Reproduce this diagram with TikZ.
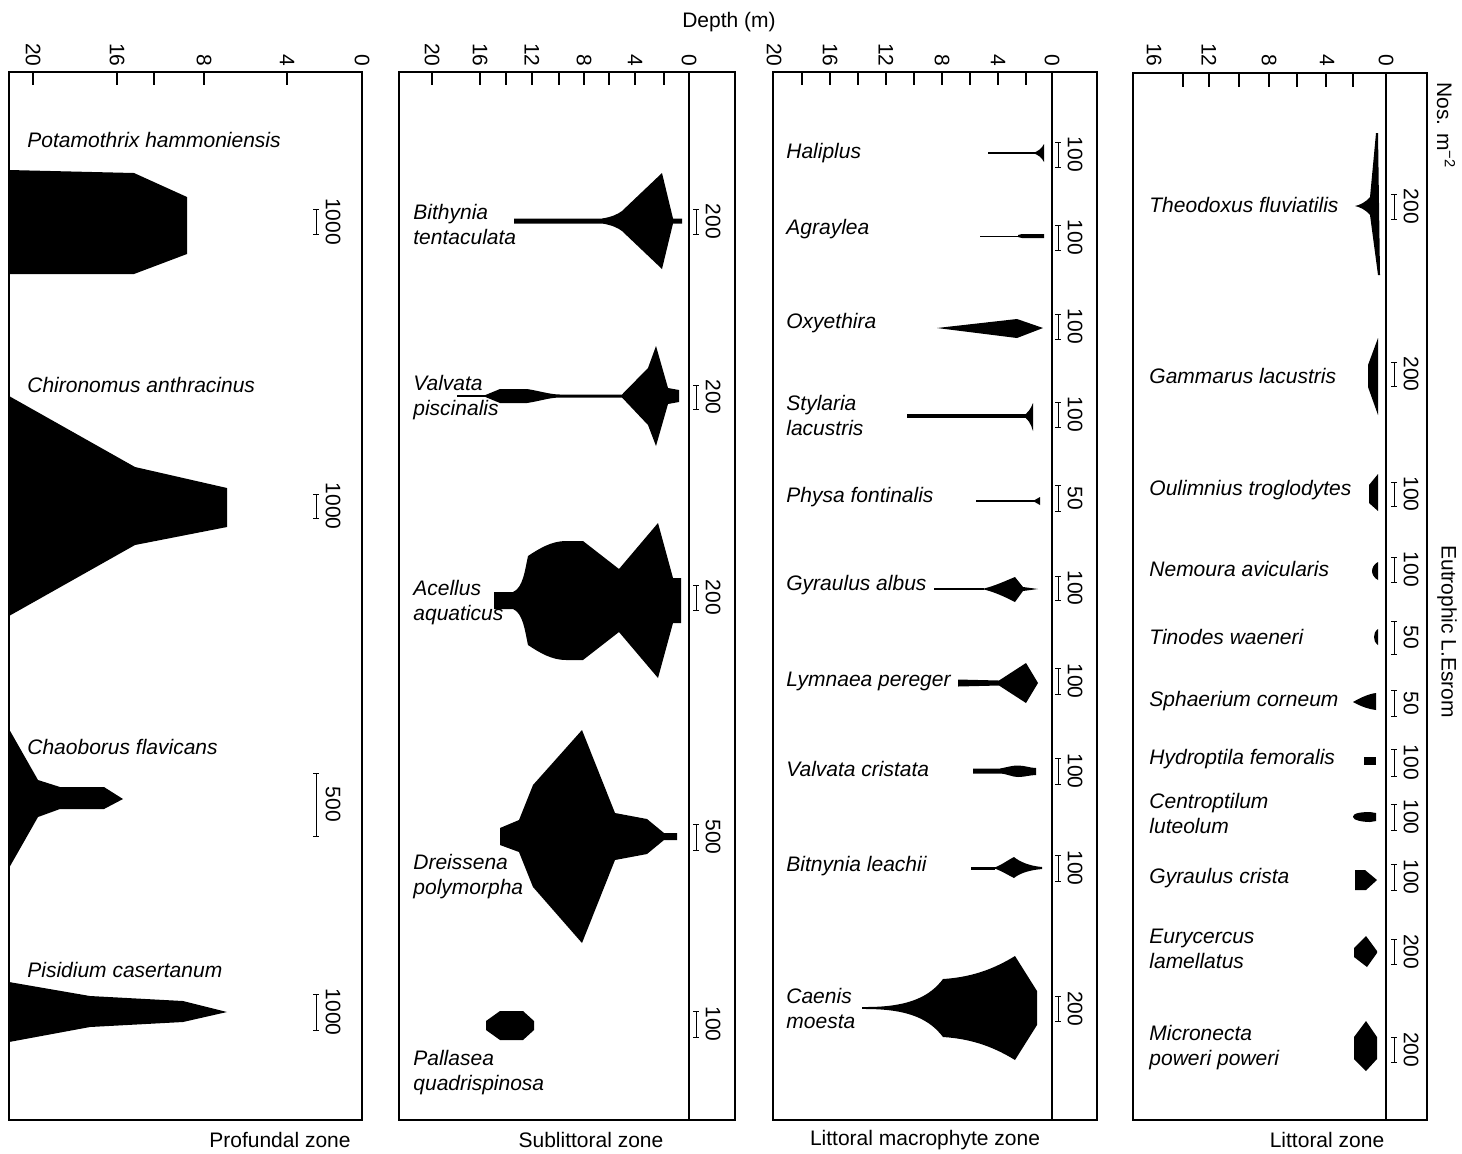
\documentclass[tikz,border=0pt]{standalone}
\usepackage{fontspec}
\setmainfont{Liberation Sans}
\begin{document}
\begin{tikzpicture}[x=0.5pt,y=-0.5pt,
  frame/.style={line width=0.6pt},
  tickmark/.style={line width=0.6pt},
  bar/.style={line width=0.5pt},
  sp/.style={anchor=west,inner sep=0pt,align=left,font=\itshape\fontsize{10.5}{12.5}\selectfont},
  num/.style={rotate=-90,anchor=center,inner sep=0pt,font=\fontsize{10.5}{12.5}\selectfont},
  ticklab/.style={rotate=-90,anchor=east,inner sep=0pt,font=\fontsize{10.5}{12.5}\selectfont},
  zone/.style={anchor=center,inner sep=0pt,font=\fontsize{10.5}{12.5}\selectfont}]
\useasboundingbox (0,0) rectangle (1462,1153);

% scale bar: name, x, top, bottom, value
\newcommand\sbar[5]{%
  \draw[bar] (#2-3,#3) -- (#2+3,#3) (#2,#3) -- (#2,#4) (#2-3,#4) -- (#2+3,#4);
  \node[num] (#1) at ({#2+17},{(#3+#4)/2}) {#5};}

% ---------------- frames and depth axes ----------------
\node[zone] (depth) at (729,22) {Depth (m)};

% Profundal
\draw[frame] (9,72) rectangle (362,1120);
\foreach \x in {33,117,154,204,287} \draw[tickmark] (\x,72) -- (\x,85);
\node[ticklab] (pa) at (33,67) {20};
\node[ticklab] (pb) at (117,67) {16};
\node[ticklab] (pc) at (204,67) {8};
\node[ticklab] (pd) at (287,67) {4};
\node[ticklab] (pe) at (362,67) {0};

% Sublittoral
\draw[frame] (399,72) rectangle (735,1120);
\draw[frame] (689,72) -- (689,1120);
\foreach \x in {432,480,506,532,559,584,609,635,664} \draw[tickmark] (\x,72) -- (\x,85);
\node[ticklab] (sa) at (432,67) {20};
\node[ticklab] (sb) at (480,67) {16};
\node[ticklab] (sc) at (532,67) {12};
\node[ticklab] (sd) at (584,67) {8};
\node[ticklab] (se) at (635,67) {4};
\node[ticklab] (sf) at (689,67) {0};

% Littoral macrophyte
\draw[frame] (773,72) rectangle (1097,1120);
\draw[frame] (1052,72) -- (1052,1120);
\foreach \x in {802,830,858,886,914,942,970,998,1026} \draw[tickmark] (\x,72) -- (\x,85);
\node[ticklab] (ma) at (774,67) {20};
\node[ticklab] (mb) at (830,67) {16};
\node[ticklab] (mc) at (886,67) {12};
\node[ticklab] (md) at (942,67) {8};
\node[ticklab] (me) at (998,67) {4};
\node[ticklab] (mf) at (1052,67) {0};

% Littoral
\draw[frame] (1133,73) rectangle (1427,1120);
\draw[frame] (1386,73) -- (1386,1120);
\foreach \x in {1183,1209,1239,1269,1297,1326,1353} \draw[tickmark] (\x,73) -- (\x,87);
\node[ticklab] (la) at (1154,67) {16};
\node[ticklab] (lb) at (1209,67) {12};
\node[ticklab] (lc) at (1269,67) {8};
\node[ticklab] (ld) at (1327,67) {4};
\node[ticklab] (le) at (1386,67) {0};

\node[rotate=-90,anchor=west,inner sep=0pt,font=\fontsize{10.5}{12.5}\selectfont] (nos) at (1446,82) {Nos. m\textsuperscript{−2}};
\node[rotate=-90,anchor=west,inner sep=0pt,font=\fontsize{10.5}{12.5}\selectfont] (lake) at (1447,545) {Eutrophic L.Esrom};

% zone names
\node[zone] (zprof) at (280,1140) {Profundal zone};
\node[zone] (zsub) at (591,1140) {Sublittoral zone};
\node[zone] (zmac) at (925,1140) {Littoral macrophyte zone};
\node[zone] (zlit) at (1327,1140) {Littoral zone};

% ---------------- Profundal zone ----------------
\node[sp] (potam) at (27,140) {Potamothrix hammoniensis};
\fill (9,170) -- (134,173) -- (187,197) -- (187,254) -- (134,274) -- (9,274) -- cycle;
\sbar{bpotam}{316}{209}{234}{1000}

\node[sp] (chiro) at (27,385) {Chironomus anthracinus};
\fill (9,396) -- (135,467) -- (227,488) -- (227,527) -- (135,545) -- (9,616) -- cycle;
\sbar{bchiro}{316}{494}{518}{1000}

\node[sp] (chaob) at (27,747) {Chaoborus flavicans};
\fill (9,729) -- (38,780) -- (60,787) -- (104,787) -- (123,799) -- (104,809) -- (60,809) -- (38,817) -- (9,868) -- cycle;
\sbar{bchaob}{316}{773}{836}{500}

\node[sp] (pisid) at (27,970) {Pisidium casertanum};
\fill (9,982) -- (90,996) -- (183,1001) -- (227,1012) -- (183,1022) -- (90,1027) -- (9,1042) -- cycle;
\sbar{bpisid}{316}{994}{1030}{1000}

% ---------------- Sublittoral zone ----------------
\node[sp] (bithy) at (413,224.5) {Bithynia\\tentaculata};
\fill (514,218.5) -- (602,218.5) .. controls (612,217) and (618,214) .. (622,211) -- (662,173) -- (673,218.5) -- (682,218.5)
  -- (682,223.5) -- (673,223.5) -- (662,269) -- (622,231) .. controls (618,228) and (612,225) .. (602,223.5) -- (514,223.5) -- cycle;
\sbar{bbithy}{696}{209}{234}{200}

\node[sp] (valpi) at (413,398) {Valvata\\piscinalis};
\draw[line width=0.6pt] (457,396) -- (485,396);
\fill (483,396) -- (500,389) -- (527,389) .. controls (540,391) and (550,394.5) .. (560,394.5) -- (622,394.5) -- (648,368) -- (656,346) -- (668,388) -- (679,390)
  -- (679,402) -- (668,404) -- (656,446) -- (648,425) -- (622,397.5) -- (560,397.5) .. controls (550,397.5) and (540,401) .. (527,403) -- (500,403) -- cycle;
\sbar{bvalpi}{696}{385}{409}{200}

\node[sp] (acell) at (413,602.5) {Acellus\\aquaticus};
\fill (494,592) -- (513,592) .. controls (523,588) and (525,570) .. (528,556) .. controls (540,548) and (552,541) .. (566,541) -- (583,541) -- (619,569) -- (658,523) -- (673,578) -- (681,578)
  -- (681,623) -- (673,623) -- (658,678) -- (619,632) -- (583,660) -- (566,660) .. controls (552,660) and (540,653) .. (528,645) .. controls (525,631) and (523,613) .. (513,609) -- (494,609) -- cycle;
\sbar{bacell}{696}{585}{610}{200}

\node[sp] (dreis) at (413,876.5) {Dreissena\\polymorpha};
\fill (500,828) -- (519,820) -- (533,785) -- (582,730) -- (615,813) -- (647,819) -- (664,833) -- (677,833)
  -- (677,840) -- (664,840) -- (647,854) -- (615,860) -- (582,943) -- (533,887) -- (519,852) -- (500,845) -- cycle;
\sbar{bdreis}{696}{824}{850}{500}

\node[sp] (palla) at (413,1072.5) {Pallasea\\quadrispinosa};
\fill (500,1011) -- (523,1011) -- (534,1021) -- (534,1030) -- (523,1040) -- (500,1040) -- (486,1030) -- (486,1021) -- cycle;
\sbar{bpalla}{696}{1011}{1037}{100}

% ---------------- Littoral macrophyte zone ----------------
\node[sp] (halip) at (786,153) {Haliplus};
\draw[line width=1pt] (988,153) -- (1036,153);
\fill (1032,153) .. controls (1038,152) and (1042,148) .. (1044,144) -- (1044,162) .. controls (1042,158) and (1038,154) .. (1032,153) -- cycle;
\sbar{bhalip}{1058}{142}{167}{100}

\node[sp] (agray) at (786,229) {Agraylea};
\draw[line width=0.5pt] (980,236) -- (1020,236);
\fill (1018,235) -- (1022,234) -- (1044,234) -- (1044,238) -- (1022,238) -- (1018,237) -- cycle;
\sbar{bagray}{1058}{225}{250}{100}

\node[sp] (oxyet) at (786,323) {Oxyethira};
\fill (937,328) -- (1017,319) -- (1043,328) -- (1017,338) -- cycle;
\sbar{boxyet}{1058}{314}{339}{100}

\node[sp] (styla) at (786,415.5) {Stylaria\\lacustris};
\draw[line width=2pt] (907,416) -- (1025,416);
\fill (1022,416) .. controls (1028,414) and (1031,408) .. (1033,403) -- (1033,431) .. controls (1031,424) and (1028,418) .. (1022,416) -- cycle;
\sbar{bstyla}{1058}{402}{427}{100}

\node[sp] (physa) at (786,497) {Physa fontinalis};
\draw[line width=1pt] (976,501) -- (1036,501);
\fill (1033,501) -- (1040,497) -- (1040,505) -- cycle;
\sbar{bphysa}{1058}{485}{511}{50}

\node[sp] (gyral) at (786,585) {Gyraulus albus};
\draw[line width=0.6pt] (934,589) -- (984,589);
\fill (982,589) .. controls (995,586) and (1005,581) .. (1015,577) -- (1023,587) -- (1038,589) -- (1023,591) -- (1015,602) .. controls (1005,597) and (995,592) .. (982,589) -- cycle;
\sbar{bgyral}{1058}{576}{600}{100}

\node[sp] (lymna) at (786,681) {Lymnaea pereger};
\fill (958,679.5) -- (999,680.5) -- (1026,663) -- (1038,683) -- (1026,703) -- (999,685.5) -- (958,686.5) -- cycle;
\sbar{blymna}{1058}{668}{694}{100}

\node[sp] (valcr) at (786,769) {Valvata cristata};
\fill (973,768.5) -- (1000,768.5) .. controls (1008,767) and (1012,765.5) .. (1018,765.5) .. controls (1025,765.5) and (1030,768) .. (1036,768)
  -- (1036,775) .. controls (1030,775) and (1025,777) .. (1018,777) .. controls (1012,777) and (1008,774) .. (1000,773.5) -- (973,773.5) -- cycle;
\sbar{bvalcr}{1058}{758}{784}{100}

\node[sp] (bitny) at (786,866) {Bitnynia leachii};
\draw[line width=1.5pt] (971,868) -- (995,868);
\fill (993,868) .. controls (1000,866) and (1008,860) .. (1014,857) .. controls (1020,862) and (1030,866) .. (1042,867)
  -- (1042,869) .. controls (1030,870) and (1020,873) .. (1014,878) .. controls (1008,875) and (1000,870) .. (993,868) -- cycle;
\sbar{bbitny}{1058}{855}{881}{100}

\node[sp] (caeni) at (786,1008.5) {Caenis\\moesta};
\draw[line width=0.8pt] (862,1008) -- (885,1008);
\fill (866,1007) .. controls (910,1007) and (930,996) .. (943,979) .. controls (975,977) and (997,967) .. (1015,956) -- (1037,991)
  -- (1037,1025) -- (1015,1060) .. controls (997,1049) and (975,1039) .. (943,1037) .. controls (930,1020) and (910,1009) .. (866,1009) -- cycle;
\sbar{bcaeni}{1058}{996}{1021}{200}

% ---------------- Littoral zone ----------------
\node[sp] (theod) at (1149,205) {Theodoxus fluviatilis};
\fill (1376,133) -- (1378,133) -- (1380,275) -- (1378,275) -- (1370,215) .. controls (1366,210) and (1360,207) .. (1355,206)
  .. controls (1360,205) and (1366,202) .. (1370,197) -- cycle;
\sbar{btheod}{1394}{194}{219}{200}

\node[sp] (gamma) at (1149,376) {Gammarus lacustris};
\fill (1378,338) -- (1368,365) -- (1368,387) -- (1378,415) -- cycle;
\sbar{bgamma}{1394}{362}{386}{200}

\node[sp] (oulim) at (1149,490) {Oulimnius troglodytes};
\fill (1378,474) -- (1369,485) -- (1369,503) -- (1378,511) -- cycle;
\sbar{boulim}{1394}{482}{506}{100}

\node[sp] (nemou) at (1149,569) {Nemoura avicularis};
\fill (1378,562) .. controls (1374,564) and (1372,568) .. (1372,571) .. controls (1372,574) and (1374,578) .. (1378,580) -- cycle;
\sbar{bnemou}{1394}{557}{582}{100}

\node[sp] (tinod) at (1149,637) {Tinodes waeneri};
\fill (1378,629) .. controls (1375,631) and (1374,634) .. (1374,637) .. controls (1374,640) and (1375,643) .. (1378,645) -- cycle;
\sbar{btinod}{1394}{621}{654}{50}

\node[sp] (sphae) at (1149,701) {Sphaerium corneum};
\fill (1353,702) .. controls (1360,698) and (1368,694) .. (1376,693) -- (1376,710) .. controls (1368,709) and (1360,706) .. (1353,702) -- cycle;
\sbar{bsphae}{1394}{690}{716}{50}

\node[sp] (hydro) at (1149,759) {Hydroptila femoralis};
\fill (1364,757) rectangle (1376,765);
\sbar{bhydro}{1394}{749}{776}{100}

\node[sp] (centr) at (1149,813) {Centroptilum\\luteolum};
\fill (1353,816.5) .. controls (1353,813) and (1362,812) .. (1370,812) -- (1376,813) -- (1376,821) -- (1370,822) .. controls (1362,822) and (1353,820) .. (1353,817) -- cycle;
\sbar{bcentr}{1394}{804}{830}{100}

\node[sp] (gyrcr) at (1149,878) {Gyraulus crista};
\fill (1355,870) -- (1365,870) -- (1377,880) -- (1366,890) -- (1355,890) -- cycle;
\sbar{bgyrcr}{1394}{864}{890}{100}

\node[sp] (euryc) at (1149,948.5) {Eurycercus\\lamellatus};
\fill (1354,948) -- (1366,936) -- (1377,951) -- (1377,953) -- (1367,967) -- (1354,957) -- cycle;
\sbar{beuryc}{1394}{939}{964}{200}

\node[sp] (micro) at (1149,1047.5) {Micronecta\\poweri poweri};
\fill (1354,1037) -- (1366,1021) -- (1377,1037) -- (1377,1059) -- (1366,1071) -- (1354,1059) -- cycle;
\sbar{bmicro}{1394}{1037}{1062}{200}

\end{tikzpicture}
\end{document}
